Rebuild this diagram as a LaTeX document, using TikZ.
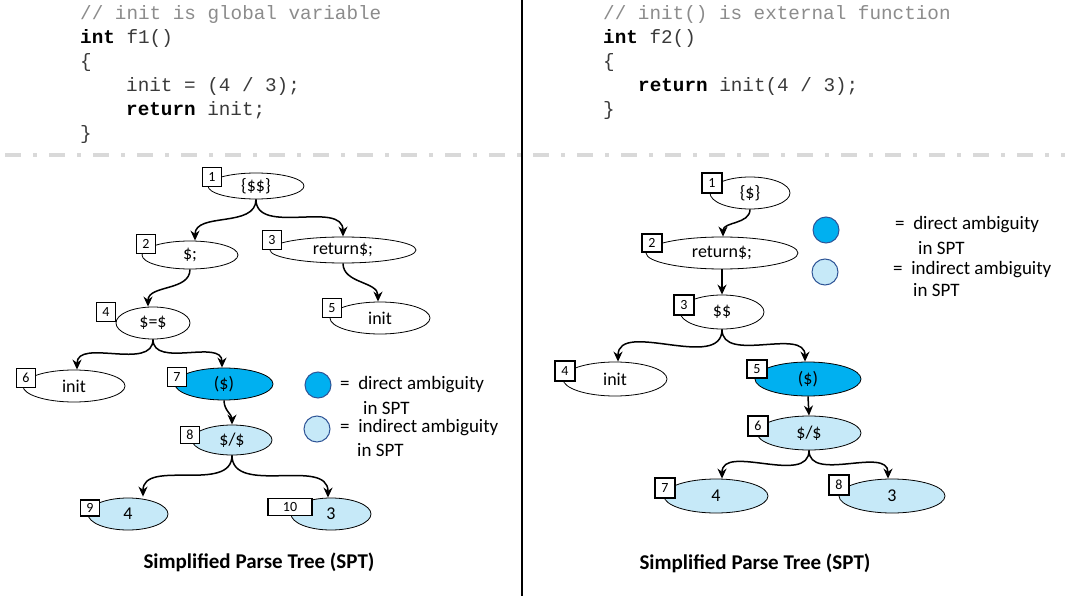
\documentclass[tikz,border=0pt]{standalone}
\usepackage{fontspec}
\setmainfont{Carlito}
\newfontfamily\codefont{Liberation Mono}
\usetikzlibrary{shapes.geometric,arrows.meta,calc}
\definecolor{dirblue}{HTML}{00B0F0}
\definecolor{indblue}{HTML}{C6E9F8}
\definecolor{legborder}{HTML}{2F5597}
\definecolor{sepgray}{HTML}{D9D9D9}
\definecolor{cmtgray}{HTML}{8C8C8C}
\definecolor{codegray}{HTML}{3A3A3A}
\begin{document}
\begin{tikzpicture}[x=1pt,y=-1pt,
  tn/.style={ellipse, draw, line width=0.8pt, inner sep=0pt, font=\fontsize{18}{18}\selectfont},
  dirn/.style={tn, fill=dirblue},
  indn/.style={tn, fill=indblue},
  num/.style={draw, line width=1.2pt, fill=white, inner sep=0pt, minimum width=19pt, minimum height=19pt, font=\fontsize{14}{14}\selectfont},
  arr/.style={line width=1.5pt, -{Stealth[length=10pt,width=9pt]}},
  code/.style={anchor=base west, inner sep=0pt, text=codegray, font=\codefont\fontsize{19.3}{24}\selectfont},
  cmt/.style={code, text=cmtgray},
  leg/.style={circle, draw=legborder, line width=1pt, minimum size=26pt, inner sep=0pt},
  legtxt/.style={anchor=west, inner sep=0pt, font=\fontsize{19}{19}\selectfont},
  title/.style={font=\bfseries\fontsize{21}{21}\selectfont, inner sep=0pt}
]
\useasboundingbox (0,0) rectangle (1065,596);
\fill[white] (0,0) rectangle (1065,596);

% separators
\draw[sepgray, line width=3.5pt, dash pattern=on 16pt off 12pt on 4pt off 12pt] (5,155) -- (1065,155);
\draw[line width=1.3pt] (522,0) -- (522,596);

% code left
\node[cmt] (cl1) at (80,20) {// init is global variable};
\node[code] (cl2) at (80,44) {\textcolor{black}{\textbf{int}} f1()};
\node[code] (cl3) at (80,68) {\{};
\node[code] (cl4) at (126,92) {init = (4 / 3);};
\node[code] (cl5) at (126,116) {\textcolor{black}{\textbf{return}} init;};
\node[code] (cl6) at (80,140) {\}};

% code right
\node[cmt] (cr1) at (603,20) {// init() is external function};
\node[code] (cr2) at (603,44) {\textcolor{black}{\textbf{int}} f2()};
\node[code] (cr3) at (603,68) {\{};
\node[code] (cr4) at (638,92) {\textcolor{black}{\textbf{return}} init(4 / 3);};
\node[code] (cr5) at (603,116) {\}};

% left tree
\node[tn, minimum width=96pt, minimum height=26pt] (L1) at (256,186) {\{\$\$\}};
\node[tn, minimum width=96pt, minimum height=28pt] (L2) at (190,255) {\$;};
\node[tn, minimum width=146pt, minimum height=26pt] (L3) at (343,250) {return\$;};
\node[tn, minimum width=74pt, minimum height=32pt] (L4) at (153,323) {\$=\$};
\node[tn, minimum width=100pt, minimum height=32pt] (L5) at (380,318) {init};
\node[tn, minimum width=102pt, minimum height=32pt] (L6) at (74,386) {init};
\node[dirn, minimum width=98pt, minimum height=32pt] (L7) at (224,384) {(\$)};
\node[indn, minimum width=80pt, minimum height=30pt] (L8) at (232,440) {\$/\$};
\node[indn, minimum width=80pt, minimum height=32pt] (L9) at (128,514) {4};
\node[indn, minimum width=80pt, minimum height=32pt] (L10) at (331,514) {3};

\node[num] (BL1) at (212,177) {1};
\node[num] (BL2) at (146,244) {2};
\node[num] (BL3) at (272,240) {3};
\node[num] (BL4) at (106,312) {4};
\node[num] (BL5) at (332,308) {5};
\node[num] (BL6) at (26,378) {6};
\node[num] (BL7) at (177,377) {7};
\node[num, minimum height=17pt] (BL8) at (190,435) {8};
\node[num, minimum height=16pt] (BL9) at (90,508) {9};
\node[num, minimum width=44pt, minimum height=17pt] (BL10) at (290,507) {10};

\draw[arr] (L1.south) to[out=-90,in=90] ($(L2.north)+(5,0)$);
\draw[arr] (L1.south) to[out=-90,in=90] (L3.north);
\draw[arr] (L3.south) to[out=-90,in=90] ($(L5.north)+(-2,0)$);
\draw[arr] (L2.south) to[out=-90,in=90] ($(L4.north)+(-5,0)$);
\draw[arr] (L4.south) to[out=-90,in=90] ($(L6.north)+(3,0)$);
\draw[arr] (L4.south) to[out=-90,in=90] ($(L7.north)+(-2,0)$);
\draw[arr] (L7.south) to[out=-90,in=90] (L8.north);
\draw[arr] (L8.south) to[out=-90,in=90] ($(L9.north)+(15,-1)$);
\draw[arr] (L8.south) to[out=-90,in=90] ($(L10.north)+(-3,0)$);

% left legend
\node[leg, fill=dirblue] (LG1) at (318,385) {};
\node[leg, fill=indblue] (LG2) at (317,429) {};
\node[legtxt] (LT1) at (340,385) {=\ \ direct ambiguity};
\node[legtxt] (LT2) at (363,408) {in SPT};
\node[legtxt] (LT3) at (340,428) {=\ \ indirect ambiguity};
\node[legtxt] (LT4) at (357,450) {in SPT};

\node[title] (TL) at (259,562) {Simplified Parse Tree (SPT)};

% right tree
\node[tn, minimum width=80pt, minimum height=32pt] (R1) at (750,193) {\{\$\}};
\node[tn, minimum width=152pt, minimum height=32pt] (R2) at (722,253) {return\$;};
\node[tn, minimum width=84pt, minimum height=34pt] (R3) at (722,312) {\$\$};
\node[tn, minimum width=104pt, minimum height=34pt] (R4) at (615,379) {init};
\node[dirn, minimum width=106pt, minimum height=34pt] (R5) at (808,379) {(\$)};
\node[indn, minimum width=104pt, minimum height=34pt] (R6) at (809,433) {\$/\$};
\node[indn, minimum width=104pt, minimum height=34pt] (R7) at (716,496) {4};
\node[indn, minimum width=106pt, minimum height=34pt] (R8) at (892,496) {3};

\node[num, minimum width=20pt, minimum height=20pt] (BR1) at (712,183) {1};
\node[num, minimum width=20pt, minimum height=18pt] (BR2) at (652,243) {2};
\node[num, minimum width=20pt, minimum height=20pt] (BR3) at (684,305) {3};
\node[num, minimum width=20pt, minimum height=20pt] (BR4) at (565,371) {4};
\node[num, minimum width=20pt, minimum height=18pt] (BR5) at (757,369) {5};
\node[num, minimum width=20pt, minimum height=20pt] (BR6) at (758,426) {6};
\node[num, minimum width=20pt, minimum height=20pt] (BR7) at (665,488) {7};
\node[num, minimum width=20pt, minimum height=20pt] (BR8) at (839,485) {8};

\draw[arr] (R1.south) to[out=-90,in=90] ($(R2.north)+(1,0)$);
\draw[arr] (R2.south) -- (R3.north);
\draw[arr] (R3.south) to[out=-90,in=90] ($(R4.north)+(3,0)$);
\draw[arr] (R3.south) to[out=-90,in=90] ($(R5.north)+(-3,0)$);
\draw[arr] (R5.south) -- (R6.north);
\draw[arr] (R6.south) to[out=-90,in=90] ($(R7.north)+(6,0)$);
\draw[arr] (R6.south) to[out=-90,in=90] ($(R8.north)+(-4,0)$);

% right legend
\node[leg, fill=dirblue] (RG1) at (826,230) {};
\node[leg, fill=indblue] (RG2) at (825,272) {};
\node[legtxt] (RT1) at (895,225) {=\ \ direct ambiguity};
\node[legtxt] (RT2) at (918,248) {in SPT};
\node[legtxt] (RT3) at (893,270) {=\ \ indirect ambiguity};
\node[legtxt] (RT4) at (913,290) {in SPT};

\node[title] (TR) at (755,563) {Simplified Parse Tree (SPT)};
\end{tikzpicture}
\end{document}
